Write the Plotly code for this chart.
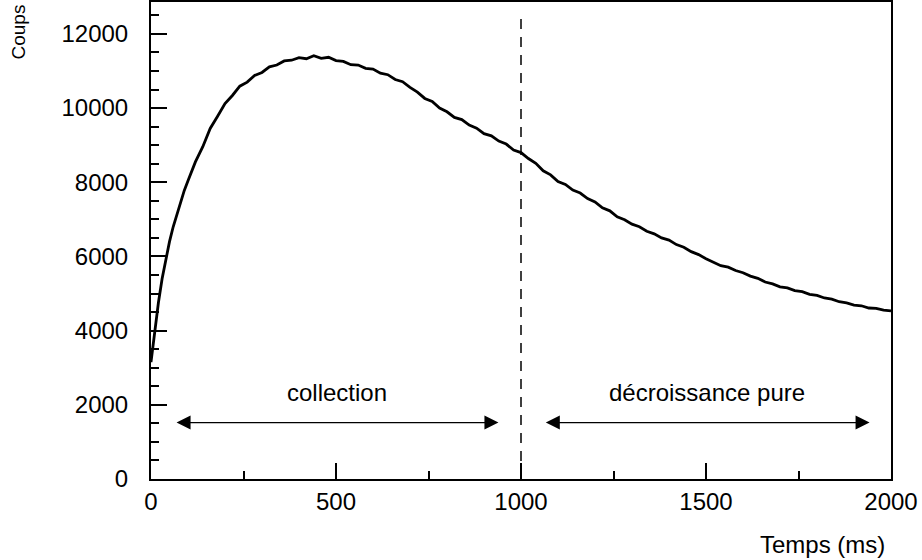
import plotly.graph_objects as go

# temps en ms (pas de 10 ms au debut, puis 20 ms)
temps = list(range(0, 100, 10)) + list(range(100, 2001, 20))

# coups
coups = [
    3150, 4000, 4750, 5400, 5950, 6400, 6800, 7150, 7480, 7780,
    8040, 8550, 8960, 9450, 9780,
    10120, 10340, 10590, 10700, 10880, 10960, 11110, 11160, 11270, 11290,
    11360, 11330, 11410, 11340, 11370, 11280, 11260, 11170, 11160, 11070,
    11050, 10940, 10900, 10770, 10710, 10560, 10430, 10260, 10180, 10000,
    9900, 9750, 9690, 9540, 9460, 9310, 9250, 9110, 9030, 8870,
    8800, 8640, 8510, 8310, 8200, 8020, 7940, 7790, 7710, 7560,
    7470, 7310, 7230, 7070, 6990, 6870, 6800, 6680, 6610, 6500,
    6440, 6320, 6250, 6130, 6050, 5940, 5850, 5750, 5710, 5620,
    5560, 5470, 5410, 5310, 5260, 5180, 5150, 5080, 5050, 4980,
    4950, 4880, 4850, 4780, 4750, 4690, 4670, 4610, 4600, 4550,
    4530,
]

x_ticks = [0, 500, 1000, 1500, 2000]
y_ticks = [0, 2000, 4000, 6000, 8000, 10000, 12000]

# fin de la collection
t_coupure = 1000

# fleches: (debut, fin, hauteur, texte)
zones = [
    (65, 939, 1520, "collection"),
    (1063, 1942, 1520, "décroissance pure"),
]

police = dict(family="Liberation Sans, Arial, sans-serif", size=24, color="black")

fig = go.Figure()
fig.add_trace(go.Scatter(x=temps, y=coups, mode="lines",
                         line=dict(color="black", width=2.8), showlegend=False))

fig.add_shape(type="line", x0=t_coupure, x1=t_coupure, y0=0, y1=12400,
              xref="x", yref="y", line=dict(color="black", width=1.5, dash="10px,8px"))

for x0, x1, h, txt in zones:
    fig.add_annotation(x=x1, y=h, ax=x0, ay=h, xref="x", yref="y", axref="x", ayref="y",
                       text="", showarrow=True, arrowhead=2, startarrowhead=2,
                       arrowside="end+start", arrowsize=2, arrowwidth=1.4,
                       arrowcolor="black", standoff=0, startstandoff=0)
    fig.add_annotation(x=(x0 + x1) / 2, y=h + 820, xref="x", yref="y", text=txt,
                       showarrow=False, font=police)

fig.add_annotation(x=1, y=0, xref="paper", yref="paper", yshift=-50, xshift=-4,
                   xanchor="right", yanchor="top", text="Temps (ms)", showarrow=False,
                   font=police)
fig.add_annotation(x=0, y=1, xref="paper", yref="paper", xshift=-133, yshift=-1,
                   xanchor="center", yanchor="top", text="Coups", textangle=-90,
                   showarrow=False, font=dict(police, size=19))

axe = dict(showgrid=False, zeroline=False, showline=True, linecolor="black", linewidth=2,
           mirror=True, ticks="inside", tickcolor="black", tickwidth=1.5, ticklen=16,
           tickfont=police, tickformat="d", automargin=False,
           minor=dict(ticks="inside", ticklen=8, tickwidth=1.5, tickcolor="black"))

fig.update_xaxes(axe, range=[0, 2000], tickvals=x_ticks, ticklabelstandoff=0,
                 minor_dtick=250)
fig.update_yaxes(axe, range=[0, 12860], tickvals=y_ticks, ticklabelstandoff=16,
                 minor_dtick=500)

fig.update_layout(width=922, height=560, margin=dict(l=151, r=31, t=2, b=81),
                  plot_bgcolor="white", paper_bgcolor="white")

# la page ajoute une marge de 8 px autour du graphique
fig.write_html("out.html", config={"displayModeBar": False},
               post_script="document.body.style.margin = '0';")
